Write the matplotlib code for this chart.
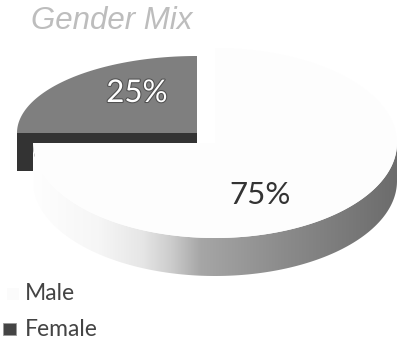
import matplotlib
matplotlib.use("Agg")
import matplotlib.pyplot as plt
import matplotlib.patheffects as pe
from matplotlib.colors import LinearSegmentedColormap
from matplotlib.patches import Polygon, Rectangle
import numpy as np

categories = ["Male", "Female"]
shares = [75, 25]
labels = ["75%", "25%"]
title = "Gender Mix"

DEPTH = 38


def wedgePoints(cx, cy, rx, ry, start, end):
  # angles in degrees, clockwise from 12 o'clock
  t = np.radians(np.linspace(start, end, 200))
  xs = cx + rx * np.sin(t)
  ys = cy - ry * np.cos(t)
  return np.column_stack([np.r_[cx, xs], np.r_[cy, ys]])


male_sweep = 360. * shares[0] / sum(shares)
female_sweep = 360. * shares[1] / sum(shares)

fig = plt.figure(figsize=(3.99, 3.43), dpi=100)
ax = fig.add_axes([0, 0, 1, 1])
plt.rcParams['font.family'] = ['Lato', 'DejaVu Sans']

# female slice sits up and to the left of the rest of the pie
fcx, fcy, frx, fry = 197, 133, 180, 77
female_top = wedgePoints(fcx, fcy, frx, fry, male_sweep, male_sweep + female_sweep)
ax.add_patch(Polygon(female_top + [0, 10], closed=True, fc="#333333", ec="none", zorder=1))
ax.add_patch(Rectangle((fcx - frx, fcy), 18, DEPTH, fc="#333333", ec="none", zorder=1))
ax.add_patch(Polygon(female_top, closed=True, fc="#7f7f7f", ec="none", zorder=2))

# male slice, rim shaded from white on the left to dark grey on the right
mcx, mcy, mrx, mry = 215, 143, 182, 95
rim_cmap = LinearSegmentedColormap.from_list("rim", [
    (0.00, "#fefefe"), (0.18, "#f6f6f6"), (0.30, "#e6e6e6"),
    (0.38, "#cccccc"), (0.46, "#a6a6a6"), (0.70, "#8a8a8a"), (1.00, "#6c6c6c")])
img = ax.imshow(np.linspace(0, 1, 256)[None, :], cmap=rim_cmap, aspect="auto",
                extent=[mcx - mrx, mcx + mrx, 300, 100], zorder=3)
t = np.radians(np.linspace(90, 270, 200))
rim_top = np.column_stack([mcx + mrx * np.sin(t), mcy - mry * np.cos(t)])
rim = Polygon(np.vstack([rim_top, rim_top[::-1] + [0, DEPTH]]), closed=True,
              fc="none", ec="none", transform=ax.transData)
ax.add_patch(rim)
img.set_clip_path(rim)
ax.add_patch(Polygon(wedgePoints(mcx, mcy, mrx, mry, 0, male_sweep), closed=True,
                     fc="#fdfdfd", ec="none", zorder=4))

ax.text(260, 195, labels[0], fontsize=22.5, color="#333333", ha="center", va="center", zorder=5)
ax.text(137, 93, labels[1], fontsize=22.5, color="white", ha="center", va="center", zorder=5,
        path_effects=[pe.withStroke(linewidth=1.5, foreground="#505050")])

ax.text(112, 21, title, fontsize=22.5, style="italic", color="#bdbdbd", ha="center", va="center",
        family="Liberation Sans", zorder=5)

# legend
ax.add_patch(Rectangle((7, 288), 12, 12, fc="#fbfbfb", ec="none"))
ax.add_patch(Rectangle((3, 323), 13, 12, fc="#444444", ec="#999999", lw=0.6))
ax.text(25, 294, categories[0], fontsize=16.5, color="#444444", va="center")
ax.text(25, 330, categories[1], fontsize=16.5, color="#444444", va="center")

ax.set_xlim(0, 399)
ax.set_ylim(343, 0)
ax.axis("off")
fig.savefig("out.png", dpi=100)
